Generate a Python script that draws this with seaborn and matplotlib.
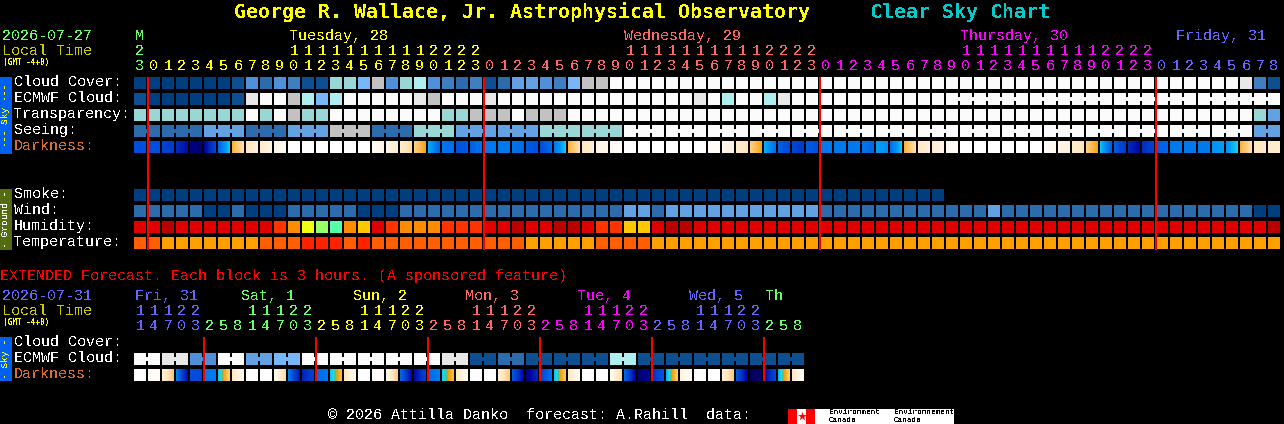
import numpy as np
import matplotlib
matplotlib.use("Agg")
import matplotlib.pyplot as plt
from matplotlib.colors import ListedColormap, LinearSegmentedColormap
from matplotlib.patches import Rectangle
import seaborn as sns

W, H = 1284, 424

# colour scales
sky_colors = ["#003F7F", "#0D4F90", "#2C6CAC", "#3F7FBF", "#5090D8", "#62A2E2",
              "#77B7F7", "#99D7D7", "#AEEEEE", "#C2C2C2", "#E8E8E8", "#FBFBFB"]
humidity_colors = ["#BB0000", "#E00000", "#FF3300", "#FF8C00", "#FFC800",
                   "#EEFF11", "#99FF66", "#55FFAA"]
temperature_colors = ["#FF9F00", "#FF5F00", "#FF2200"]
darkness_stops = [(0.0, "#000050"), (0.1, "#0000A0"), (0.2, "#0030C0"), (0.3, "#0050DD"),
                  (0.4, "#0078EE"), (0.5, "#00A0F8"), (0.58, "#20D8E8"), (0.61, "#50C090"),
                  (0.63, "#F0A000"), (0.7, "#FFC060"), (0.8, "#FFE4B8"), (0.9, "#FFF6E8"),
                  (1.0, "#FFFFFF")]

# hourly rows, 82 blocks
cloud_cover = [0, 0, 0, 0, 0, 0, 0, 1, 4, 2, 4, 3, 1, 1, 7, 7, 6, 9, 4, 7,
               8, 4, 3, 2, 3, 1, 2, 5, 5, 4, 3, 6, 9, 9, 11, 11, 11, 11, 11, 11,
               11, 11, 11, 11, 11, 11, 11, 11, 11, 11, 11, 11, 11, 11, 11, 11, 11, 11, 11, 11,
               11, 11, 11, 11, 11, 11, 11, 11, 11, 11, 11, 11, 11, 11, 11, 11, 11, 11, 11, 10,
               3, 1]
ecmwf_cloud = [1, 0, 0, 0, 0, 0, 0, 1, 10, 11, 11, 9, 8, 6, 8, 11, 11, 11, 11, 11,
               10, 9, 11, 11, 11, 10, 11, 11, 11, 11, 11, 11, 11, 11, 11, 11, 11, 11, 11, 11,
               10, 11, 8, 11, 11, 8, 10, 11, 11, 11, 11, 11, 11, 11, 11, 11, 11, 11, 11, 11,
               11, 11, 11, 11, 11, 11, 11, 11, 11, 11, 11, 11, 11, 11, 11, 11, 11, 11, 11, 11,
               11, 11]
transparency = [7, 7, 7, 7, 7, 7, 7, 7, 11, 7, 11, 9, 7, 7, 11, 11, 11, 11, 11, 11,
                11, 11, 7, 7, 9, 9, 9, 11, 9, 9, 9, 11, 11, 11, 11, 11, 11, 11, 11, 11,
                11, 11, 11, 11, 11, 11, 11, 11, 11, 11, 11, 11, 11, 11, 11, 11, 11, 11, 11, 11,
                11, 11, 11, 11, 11, 11, 11, 11, 11, 11, 11, 11, 11, 11, 11, 11, 11, 11, 11, 11,
                7, 5]
seeing = [2, 2, 2, 2, 2, 5, 5, 5, 2, 2, 2, 5, 5, 5, 9, 9, 9, 2, 2, 2,
          7, 7, 7, 5, 5, 5, 5, 5, 5, 7, 7, 7, 7, 7, 7, 11, 11, 11, 11, 11,
          11, 11, 11, 11, 11, 11, 11, 11, 11, 11, 11, 11, 11, 11, 11, 11, 11, 11, 11, 11,
          11, 11, 11, 11, 11, 11, 11, 11, 11, 11, 11, 11, 11, 11, 11, 11, 11, 11, 11, 11,
          5, 5]
darkness_left = [3.0, 3.0, 2.7, 2.0, 0.7, 0.8, 3.3, 6.5, 8.0, 8.3, 9.0, 10, 10, 10, 10, 10, 10, 9.5, 9.0, 8.5,
                 7.5, 5.5, 4.0, 3.0, 3.3, 4.0, 4.0, 4.0, 3.3, 2.8, 3.8, 6.5, 8.0, 8.8, 9.2, 10, 10, 10, 10, 10,
                 10, 9.8, 9.2, 8.5, 7.5, 5.5, 3.5, 2.8, 3.3, 4.0, 4.0, 4.0, 4.0, 5.0, 3.5, 6.5, 8.2, 8.5, 9.2, 10,
                 10, 10, 10, 10, 10, 9.7, 9.0, 8.5, 7.5, 5.8, 3.4, 2.0, 1.9, 3.3, 4.0, 4.0, 4.0, 4.6, 4.6, 6.5,
                 8.2, 8.3]
darkness_right = [3.0, 3.0, 2.3, 1.2, 0.4, 3.0, 5.8, 8.0, 8.8, 9.0, 9.6, 10, 10, 10, 10, 10, 10, 9.0, 8.5, 7.6,
                  6.3, 3.2, 3.7, 3.3, 4.0, 4.0, 4.0, 3.6, 3.0, 3.8, 5.8, 8.0, 8.7, 9.2, 9.8, 10, 10, 10, 10, 10,
                  10, 9.5, 8.7, 8.0, 6.3, 3.5, 2.8, 2.2, 3.0, 4.0, 4.0, 4.0, 3.5, 4.5, 5.8, 8.0, 8.7, 9.0, 9.7, 10,
                  10, 10, 10, 10, 10, 9.2, 8.7, 8.0, 6.3, 3.0, 2.2, 1.0, 2.7, 3.6, 4.0, 4.0, 4.0, 5.0, 5.8, 8.0,
                  8.3, 8.6]
smoke = [0] * 58
wind = [2, 2, 2, 2, 2, 0, 0, 2, 0, 0, 0, 2, 2, 2, 2, 2, 0, 0, 0, 2,
        2, 2, 2, 2, 2, 2, 2, 2, 2, 2, 2, 2, 2, 2, 2, 5, 5, 2, 5, 5,
        5, 5, 5, 5, 5, 5, 5, 5, 5, 2, 2, 2, 2, 2, 2, 2, 2, 2, 2, 2,
        2, 5, 2, 2, 2, 2, 2, 2, 2, 2, 2, 2, 2, 2, 2, 2, 2, 2, 2, 2,
        0, 0]
humidity = [1, 1, 0, 1, 1, 1, 1, 1, 1, 1, 2, 3, 5, 6, 7, 3, 4, 1, 2, 3,
            3, 3, 2, 2, 2, 1, 1, 0, 1, 1, 0, 0, 1, 2, 2, 4, 4, 1, 0, 0,
            1, 1, 1, 1, 1, 1, 1, 1, 1, 1, 1, 1, 1, 1, 1, 1, 1, 1, 1, 1,
            1, 1, 1, 1, 1, 1, 1, 1, 1, 1, 1, 1, 1, 1, 1, 1, 1, 1, 1, 1,
            1, 0]
temperature = [1, 1, 0, 0, 0, 0, 0, 0, 0, 1, 1, 1, 2, 2, 2, 1, 2, 1, 1, 1,
               1, 1, 1, 1, 1, 1, 1, 1, 0, 0, 0, 0, 0, 1, 1, 1, 1, 0, 0, 0,
               0, 0, 0, 0, 0, 0, 0, 0, 0, 0, 0, 0, 0, 0, 0, 0, 0, 0, 0, 0,
               0, 0, 0, 0, 0, 0, 0, 0, 0, 0, 0, 0, 0, 0, 0, 0, 0, 0, 0, 0,
               0, 0]

# extended rows, 48 blocks of 3 hours
ext_ecmwf = [11, 11, 10, 10, 4, 4, 11, 11, 5, 5, 6, 6, 11, 11, 11, 11, 11, 11, 11, 11,
             11, 11, 10, 10, 1, 1, 2, 2, 1, 1, 1, 1, 1, 1, 8, 8, 1, 1, 1, 1,
             1, 1, 1, 1, 1, 1, 1, 1]
ext_dark_left = [10, 9.8, 9.0, 4.6, 3.0, 4.0, 5.3, 8.0, 10, 10, 9.5, 4.5, 1.6, 3.6, 5.3, 8.0, 10, 10, 9.5, 4.0,
                 1.0, 3.5, 5.5, 8.0, 10, 10, 9.0, 3.5, 0.5, 2.5, 5.3, 8.0, 10, 10, 9.5, 4.0, 0.3, 2.0, 5.0, 8.5,
                 10, 10, 9.0, 3.5, 0.0, 0.9, 5.0, 8.0]
ext_dark_right = [10, 9.5, 7.0, 0.8, 2.7, 4.0, 7.5, 9.5, 10, 9.8, 7.5, 1.0, 2.7, 4.0, 7.0, 9.5, 10, 9.5, 7.0, 0.8,
                  2.8, 4.2, 7.0, 9.6, 10, 10, 7.0, 0.8, 2.0, 4.0, 7.3, 9.5, 10, 10, 7.5, 0.6, 1.0, 3.3, 7.5, 9.8,
                  10, 10, 7.0, 0.6, 0.5, 3.0, 7.5, 9.8]

# tick labels
hour_days = [("", "#66FF66", 1), ("Tuesday, 28", "#FFFF00", 24), ("Wednesday, 29", "#FF6666", 24),
             ("Thursday, 30", "#FF00FF", 24), ("Friday, 31", "#6666FF", 9)]
ext_days = [("Fri, 31", "#6666FF", 5), ("Sat, 1", "#66FF66", 8), ("Sun, 2", "#FFFF00", 8),
            ("Mon, 3", "#FF6666", 8), ("Tue, 4", "#FF00FF", 8), ("Wed, 5", "#6666FF", 8),
            ("Th", "#66FF66", 3)]
first_hours = [23]
ext_hours = [11, 14, 17, 20, 23, 2, 5, 8]
main_midnights = [1, 25, 49, 73]
ext_midnights = [5, 13, 21, 29, 37, 45]
day_x = {"Tuesday, 28": 289, "Wednesday, 29": 624, "Thursday, 30": 960, "Friday, 31": 1176,
         "Fri, 31": 135, "Sat, 1": 241, "Sun, 2": 353, "Mon, 3": 465, "Tue, 4": 577,
         "Wed, 5": 689, "Th": 765}

sns.set_theme(style="dark", rc={"figure.facecolor": "black", "axes.facecolor": "black"})
plt.rcParams["font.family"] = ["Liberation Mono"]
plt.rcParams["text.antialiased"] = False

fig = plt.figure(figsize=(W / 100, H / 100), dpi=100, facecolor="black")
sky_cmap = ListedColormap(sky_colors)
hum_cmap = ListedColormap(humidity_colors)
temp_cmap = ListedColormap(temperature_colors)
dark_cmap = LinearSegmentedColormap.from_list("dark", darkness_stops)

GAP = 1.44  # 2 px at dpi 100


def row_axes(top, n):
    # one block row, 14 px per block; the grid lines eat the outer px
    return fig.add_axes([133 / W, 1 - (top + 13) / H, 14 * n / W, 14 / H])


def block_row(top, values, cmap, n=82, group=None, start=0):
    ax = row_axes(top, n)
    vals = np.full((1, n), np.nan)
    vals[0, :len(values)] = values
    sns.heatmap(vals, ax=ax, cmap=cmap, vmin=-0.5, vmax=cmap.N - 0.5, cbar=False,
                linewidths=GAP, linecolor="black", xticklabels=False, yticklabels=False)
    if group:
        # joined forecast blocks get a small bridge over the gap
        size, offset = group
        for i in range(start, len(values) - 1):
            if (i + offset) // size == (i + 1 + offset) // size:
                ax.add_patch(Rectangle((i + 13 / 14, 5 / 14), 2 / 14, 4 / 14, lw=0,
                                       color=cmap(values[i]), antialiased=False, zorder=5))
    return ax


def dark_row(top, left, right):
    n = len(left)
    ax = row_axes(top, n)
    ax.set_xlim(0, n)
    ax.set_ylim(0, 1)
    ax.axis("off")
    for i in range(n):
        # bilinear is flat over the outer quarters, so the image is twice the block and clipped
        im = ax.imshow([[left[i], right[i]]], extent=(i - 0.5, i + 1.5, 0, 1), aspect="auto",
                       cmap=dark_cmap, vmin=0, vmax=10, interpolation="bilinear",
                       interpolation_stage="data")
        im.set_clip_path(Rectangle((i, 0), 1, 1, transform=ax.transData))
    # black grid on top, same gaps as the heatmap rows
    ax.vlines(range(n + 1), 0, 1, color="black", lw=GAP, zorder=6)
    ax.hlines([0, 1], 0, n, color="black", lw=GAP, zorder=6)


block_row(77, cloud_cover, sky_cmap)
block_row(93, ecmwf_cloud, sky_cmap, group=(6, 2), start=58)
block_row(109, transparency, sky_cmap)
block_row(125, seeing, sky_cmap, group=(3, 1))
dark_row(141, darkness_left, darkness_right)
block_row(189, smoke, sky_cmap)
block_row(205, wind, sky_cmap)
block_row(221, humidity, hum_cmap)
block_row(237, temperature, temp_cmap)
block_row(353, ext_ecmwf, sky_cmap, n=48, group=(2, 0))
dark_row(369, ext_dark_left, ext_dark_right)

# everything else sits on a pixel-scaled overlay
ov = fig.add_axes([0, 0, 1, 1], facecolor="none")
ov.set_xlim(0, W)
ov.set_ylim(H, 0)
ov.axis("off")


def txt(x, y, s, color="white", size=10.8, **kw):
    kw.setdefault("ha", "left")
    ov.text(x, y, s, color=color, fontsize=size, va="center", **kw)


def col_x(i):
    return 134 + 14 * i


ov.vlines([col_x(i) for i in main_midnights], 77, 250, color="#FF0000", lw=GAP)
ov.vlines([col_x(i) for i in ext_midnights], 337, 381, color="#FF0000", lw=GAP)

TITLE_FONT = "DejaVu Sans Mono"
txt(234, 12, "George R. Wallace, Jr. Astrophysical Observatory", "#FFFF00", 14.35, fontweight="bold", family=TITLE_FONT)
txt(870, 12, "Clear Sky Chart", "#00CCCC", 14.35, fontweight="bold", family=TITLE_FONT)

GREY_YELLOW = "#CCCC00"
txt(2, 36, "2026-07-27", "#66FF66")
txt(2, 51, "Local Time", GREY_YELLOW)
txt(3, 62, "(GMT -4+0)", "#FFFF00", 5.6, fontweight="bold", family=TITLE_FONT)
txt(2, 296, "2026-07-31", "#6666FF")
txt(2, 311, "Local Time", GREY_YELLOW)
txt(3, 322, "(GMT -4+0)", "#FFFF00", 5.6, fontweight="bold", family=TITLE_FONT)

# hour header, main chart
col = 0
hour = first_hours[0]
for name, color, count in hour_days:
    if name:
        txt(day_x[name], 36, name, color)
    else:
        txt(135, 36, "M", color)
    for _ in range(count):
        if hour >= 10:
            txt(col_x(col) + 6, 51, str(hour // 10), color, ha="center")
        txt(col_x(col) + 6, 66, str(hour % 10), color, ha="center")
        hour = (hour + 1) % 24
        col += 1

# hour header, extended chart
col = 0
for name, color, count in ext_days:
    txt(day_x[name], 296, name, color)
    for _ in range(count):
        hour = ext_hours[col % 8]
        if hour >= 10:
            txt(col_x(col) + 6, 311, str(hour // 10), color, ha="center")
        txt(col_x(col) + 6, 326, str(hour % 10), color, ha="center")
        col += 1

sky_rows = ["Cloud Cover:", "ECMWF Cloud:", "Transparency:", "Seeing:", "Darkness:"]
ground_rows = ["Smoke:", "Wind:", "Humidity:", "Temperature:"]
ext_rows = ["Cloud Cover:", "ECMWF Cloud:", "Darkness:"]
DARK_LABEL = "#D8702C"
for k, name in enumerate(sky_rows):
    txt(14, 82 + 16 * k, name, DARK_LABEL if name == "Darkness:" else "white")
for k, name in enumerate(ground_rows):
    txt(14, 194 + 16 * k, name)
for k, name in enumerate(ext_rows):
    txt(14, 342 + 16 * k, name, DARK_LABEL if name == "Darkness:" else "white")

# side bars
for top, bottom, face, label, tc in [(77, 154, "#0060F0", "--- Sky ---", "#FFFF00"),
                                     (189, 250, "#556B10", "- Ground -", "white"),
                                     (337, 381, "#0060F0", "- Sky -", "#FFFF00")]:
    ov.add_patch(Rectangle((0, top), 12, bottom - top, color=face, lw=0))
    ov.text(6, (top + bottom) / 2, label, color=tc, fontsize=6.8, rotation=90, ha="center", va="center")

txt(0, 276, "EXTENDED Forecast. Each block is 3 hours. (A sponsored feature)", "#FF0000")
txt(328, 415, "\u00a9 2026 Attilla Danko  forecast: A.Rahill  data:")

# Environment Canada logo
ov.add_patch(Rectangle((788, 409), 166, 15, color="white", lw=0))
ov.add_patch(Rectangle((788, 409), 9, 15, color="#FF0000", lw=0))
ov.add_patch(Rectangle((806, 409), 9, 15, color="#FF0000", lw=0))
ov.scatter([801.5], [416], marker="*", s=45, color="#FF0000", lw=0)
for x, word in [(829, "Environment"), (894, "Environnement")]:
    txt(x, 413, word, "black", 5.6)
for x in [829, 894]:
    txt(x, 420, "Canada", "black", 5.6)

fig.savefig("out.png", dpi=100, facecolor="black")
